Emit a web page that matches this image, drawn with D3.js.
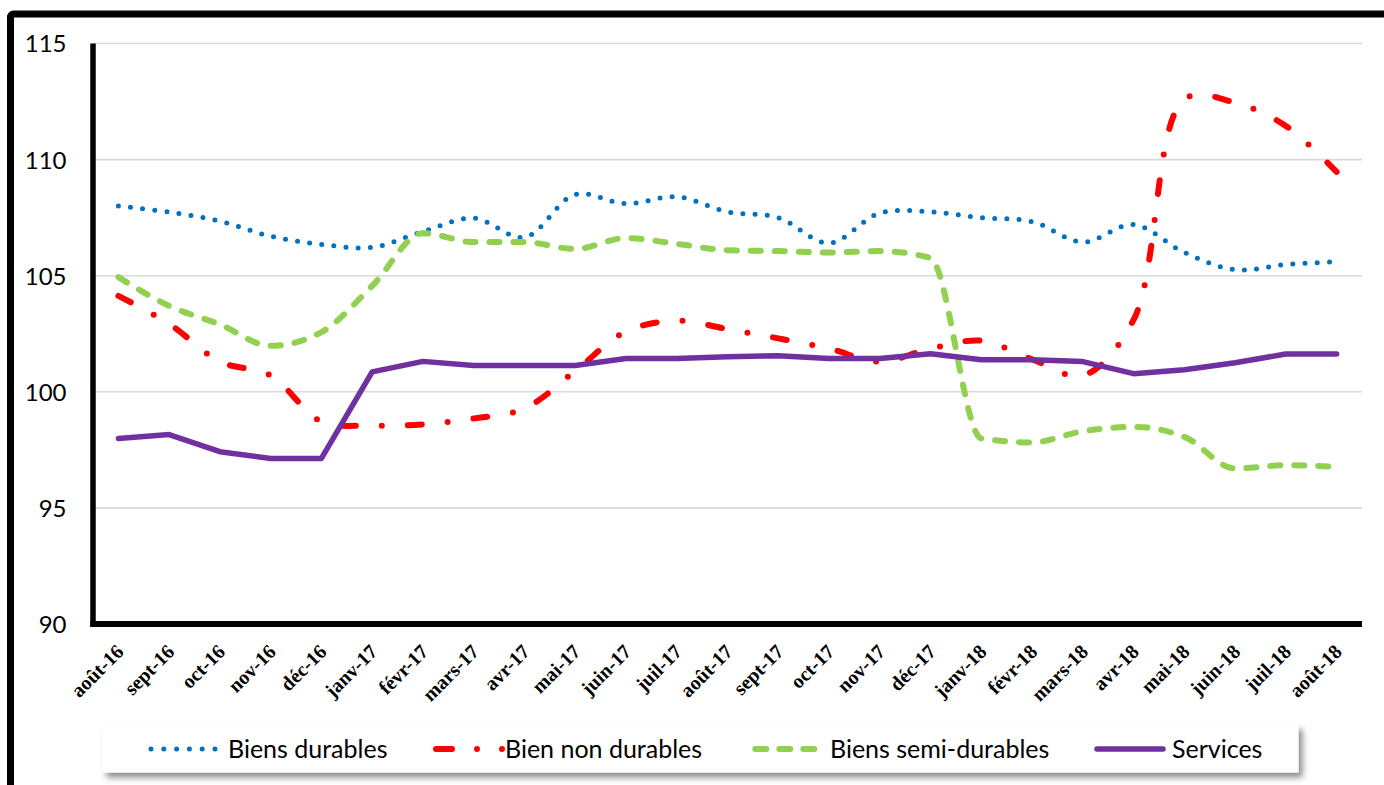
<!DOCTYPE html>
<html>
<head>
<meta charset="utf-8">
<script src="https://cdn.jsdelivr.net/npm/d3@7/dist/d3.min.js"></script>
<style>
  html, body { margin: 0; padding: 0; background: #fff; }
  svg { display: block; }
</style>
</head>
<body>
<svg id="chart" width="1384" height="785"></svg>
<script>
const months = ["août-16","sept-16","oct-16","nov-16","déc-16","janv-17","févr-17","mars-17","avr-17","mai-17","juin-17","juil-17","août-17","sept-17","oct-17","nov-17","déc-17","janv-18","févr-18","mars-18","avr-18","mai-18","juin-18","juil-18","août-18"];

const biensDurables = [108.0,107.74,107.35,106.7,106.35,106.22,106.9,107.48,106.65,108.5,108.1,108.4,107.75,107.5,106.4,107.7,107.75,107.5,107.33,106.45,107.2,106.0,105.26,105.48,105.6];
const bienNonDurables = [104.13,102.93,101.3,100.7,98.72,98.55,98.6,98.85,99.28,100.9,102.6,103.06,102.7,102.3,101.86,101.3,101.86,102.2,101.4,100.7,103.1,112.6,112.45,111.45,109.47];
const biensSemiDurables = [104.94,103.7,102.9,101.98,102.57,104.56,106.83,106.45,106.45,106.15,106.62,106.37,106.1,106.06,106.0,106.06,105.76,97.99,97.82,98.3,98.49,98.06,96.7,96.84,96.77];
const services = [97.99,98.16,97.42,97.13,97.13,100.86,101.31,101.13,101.13,101.13,101.43,101.43,101.51,101.55,101.43,101.43,101.64,101.38,101.38,101.3,100.78,100.95,101.25,101.63,101.63];

const yTicks = [90, 95, 100, 105, 110, 115];

const seriesNames = ["Biens durables","Bien non durables","Biens semi-durables","Services"];

const svg = d3.select("#chart");

// drop shadow filter for legend
const defs = svg.append("defs");
const f = defs.append("filter").attr("id","shadow").attr("x","-5%").attr("y","-40%").attr("width","110%").attr("height","200%");
f.append("feDropShadow").attr("dx",4).attr("dy",5).attr("stdDeviation",3).attr("flood-color","#000").attr("flood-opacity",0.45);

// outer frame
svg.append("rect")
  .attr("x",10.5).attr("y",14).attr("width",1420).attr("height",820)
  .attr("rx",3)
  .attr("fill","none").attr("stroke","#000").attr("stroke-width",7);

const plotLeft = 93, plotRight = 1362, plotTop = 43.5, plotBottom = 624;

const x = d3.scalePoint().domain(months).range([plotLeft, plotRight]).padding(0.5);
const y = d3.scaleLinear().domain([90,115]).range([plotBottom, plotTop]);

// gridlines
svg.append("g").selectAll("line")
  .data(yTicks.filter(t => t > 90))
  .join("line")
  .attr("x1", plotLeft).attr("x2", plotRight)
  .attr("y1", d => y(d)).attr("y2", d => y(d))
  .attr("stroke","#d9d9d9").attr("stroke-width",1.6);

// y axis labels
const yAxis = d3.axisLeft(y).tickValues(yTicks).tickSize(0).tickPadding(0).tickFormat(d3.format("d"));
const gy = svg.append("g").attr("transform",`translate(66.5,0)`).call(yAxis);
gy.select(".domain").remove();
gy.selectAll("text")
  .attr("font-family","Lato, 'Open Sans', sans-serif")
  .attr("font-size","24px")
  .attr("fill","#000")
  .attr("dy","0.35em");

// x axis labels
const xAxis = d3.axisBottom(x).tickSize(0).tickPadding(0);
const gx = svg.append("g").attr("transform",`translate(0,${plotBottom})`).call(xAxis);
gx.select(".domain").remove();
gx.selectAll(".tick text")
  .attr("font-family","'Liberation Serif', 'Times New Roman', serif")
  .attr("font-weight","bold")
  .attr("font-size","20px")
  .attr("fill","#000")
  .attr("text-anchor","end")
  .attr("y",0).attr("dy","0.35em")
  .attr("transform","translate(1,24) rotate(-45)");

// axis lines
svg.append("line").attr("x1",plotLeft).attr("x2",plotLeft).attr("y1",plotTop).attr("y2",plotBottom+2.5)
  .attr("stroke","#000").attr("stroke-width",5.5);
svg.append("line").attr("x1",plotLeft-2.75).attr("x2",plotRight).attr("y1",plotBottom).attr("y2",plotBottom)
  .attr("stroke","#000").attr("stroke-width",6);

const styles = [
  {data: biensDurables, color:"#0070C0", width:5, dash:"0 12.2", curve: d3.curveCatmullRom.alpha(0.5)},
  {data: bienNonDurables, color:"#FF0000", width:6, dash:"14 26 0 26", curve: d3.curveCatmullRom.alpha(0.5)},
  {data: biensSemiDurables, color:"#92D050", width:6, dash:"10 14", curve: d3.curveMonotoneX},
  {data: services, color:"#7030A0", width:5.5, dash:null, curve: d3.curveLinear}
];

styles.forEach(s => {
  const line = d3.line().x((d,j) => x(months[j])).y(d => y(d)).curve(s.curve);
  svg.append("path")
    .datum(s.data)
    .attr("d", line)
    .attr("fill","none")
    .attr("stroke", s.color)
    .attr("stroke-width", s.width)
    .attr("stroke-linecap","round")
    .attr("stroke-linejoin","round")
    .attr("stroke-dasharray", s.dash);
});

// legend
const lg = svg.append("g");
lg.append("rect").attr("x",102.5).attr("y",724.5).attr("width",1196).attr("height",48)
  .attr("fill","#fff").attr("filter","url(#shadow)");
const legendY = 749;
const legendItems = [
  {x1:151, x2:215.5, textX:228, dash:"0 12.8"},
  {x1:436, x2:503, textX:505, dash:"16 25 0 25 0 100"},
  {x1:755.3, x2:814.5, textX:830, dash:"11 13"},
  {x1:1097, x2:1163, textX:1172, dash:null}
];
legendItems.forEach((it,i) => {
  const s = styles[i];
  lg.append("line").attr("x1",it.x1).attr("x2",it.x2).attr("y1",legendY).attr("y2",legendY)
    .attr("stroke",s.color).attr("stroke-width",s.width)
    .attr("stroke-linecap","round").attr("stroke-dasharray",it.dash);
  lg.append("text").attr("x",it.textX).attr("y",legendY).attr("dy","0.35em")
    .attr("font-family","Lato, 'Open Sans', sans-serif").attr("font-size","25px").attr("fill","#000")
    .text(seriesNames[i]);
});
</script>
</body>
</html>
